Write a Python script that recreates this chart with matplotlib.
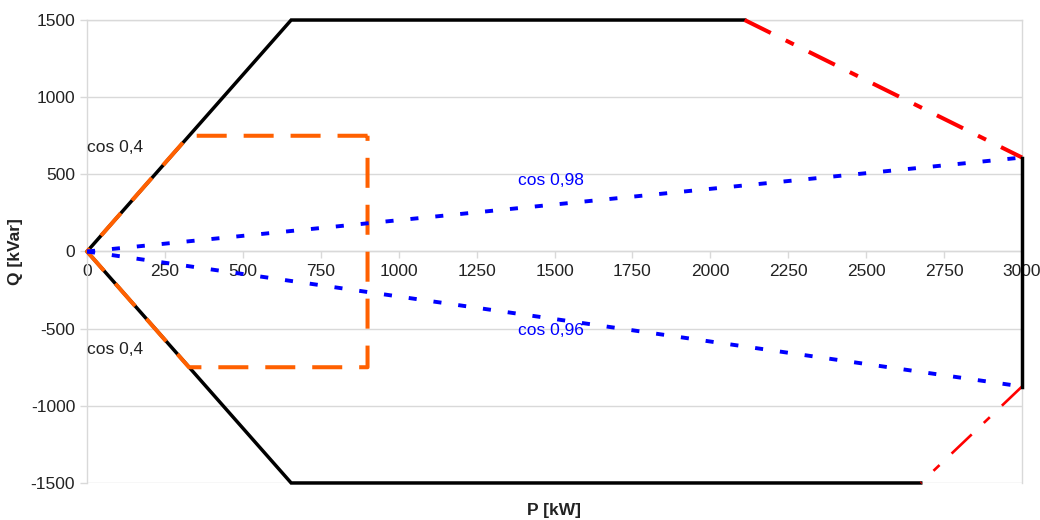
import matplotlib

matplotlib.use("Agg")
import matplotlib.pyplot as plt

plt.rcParams["font.family"] = ["Liberation Sans", "DejaVu Sans"]
plt.rcParams["lines.scale_dashes"] = False
plt.rcParams["axes.unicode_minus"] = False

# capability diagram data (P in kW, Q in kVar)
black_p = [2110, 655, 0, 655, 2675]
black_q = [1500, 1500, 0, -1500, -1500]
black_edge_p = [3000, 3000]
black_edge_q = [609, -875]
red_top_p = [2110, 3000]
red_top_q = [1500, 609]
red_bot_p = [3000, 2675]
red_bot_q = [-875, -1500]
orange_p = [900, 327, 0, 327, 900, 900]
orange_q = [750, 750, 0, -750, -750, 750]
blue_up_p = [0, 3000]
blue_up_q = [0, 609]
blue_dn_p = [0, 3000]
blue_dn_q = [0, -875]

x_ticks = list(range(0, 3001, 250))
y_ticks = list(range(-1500, 1501, 500))

GRID = "#d9d9d9"
TXT = "#222222"

fig = plt.figure(figsize=(10.4, 5.2), dpi=100)
ax = fig.add_axes([0.0837, 0.0712, 0.8990, 0.8903])

ax.plot(black_p, black_q, color="black", lw=2.5, zorder=3, clip_on=False,
        solid_joinstyle="miter")
ax.plot(red_top_p, red_top_q, color="#ff0000", lw=2.9, zorder=3, clip_on=False,
        dashes=(21, 12, 6.5, 12))
ax.plot(red_bot_p, red_bot_q, color="#ff0000", lw=1.9, zorder=3, clip_on=False,
        dashes=(20, 12, 6, 12))
ax.plot(orange_p, orange_q, color="#ff6000", lw=2.9, zorder=4, clip_on=False,
        dashes=(21.6, 12.2))
ax.plot(blue_up_p, blue_up_q, color="#0000ff", lw=2.8, zorder=5, clip_on=False,
        dashes=(5.8, 12.2))
ax.plot(blue_dn_p, blue_dn_q, color="#0000ff", lw=2.8, zorder=5, clip_on=False,
        dashes=(5.8, 12.2))
ax.plot(black_edge_p, black_edge_q, color="black", lw=2.5, zorder=6, clip_on=False)

ax.text(0, 674, "cos 0,4", fontsize=12.5, color=TXT, va="center", ha="left")
ax.text(0, -635, "cos 0,4", fontsize=12.5, color=TXT, va="center", ha="left")
ax.text(1383, 460, "cos 0,98", fontsize=12.5, color="#0000ff", va="center", ha="left")
ax.text(1383, -512, "cos 0,96", fontsize=12.5, color="#0000ff", va="center", ha="left")

ax.set_xlim(0, 3000)
ax.set_ylim(-1500, 1500)
ax.set_xticks(x_ticks)
ax.set_yticks(y_ticks)
ax.yaxis.grid(True, color=GRID, lw=1)
ax.spines["bottom"].set_position(("data", 0))
for side in ["left", "right", "top", "bottom"]:
    ax.spines[side].set_color(GRID)
    ax.spines[side].set_linewidth(1)
ax.tick_params(axis="both", colors=GRID, labelcolor=TXT, labelsize=12.5,
               length=5, width=1)
ax.tick_params(axis="x", pad=4)

fig.text(0.533, 0.018, "P [kW]", fontsize=12.5, fontweight="bold",
         ha="center", va="center", color=TXT)
fig.text(0.015, 0.516, "Q [kVar]", fontsize=12.5, fontweight="bold",
         ha="center", va="center", rotation=90, color=TXT)

fig.savefig("out.png", dpi=100)
